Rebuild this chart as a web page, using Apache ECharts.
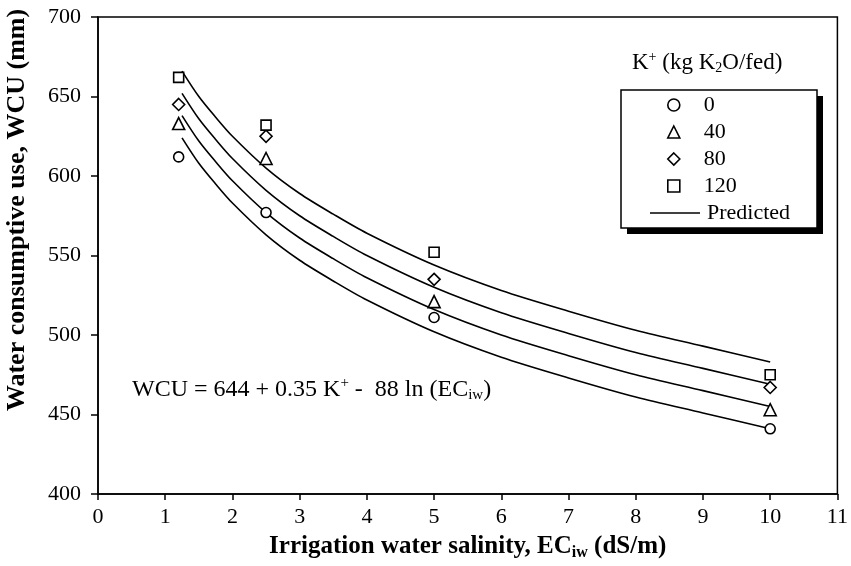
<!DOCTYPE html>
<html>
<head>
<meta charset="utf-8">
<script src="https://cdn.jsdelivr.net/npm/echarts@6/dist/echarts.min.js"></script>
<style>html,body{margin:0;padding:0;background:#fff}#c{width:851px;height:566px}</style>
</head>
<body>
<div id="c"></div>
<script>
// Observed data (EC_iw in dS/m, WCU in mm)
var obsEC = [1.2, 2.5, 5, 10];
var obsK0 = [612, 577, 511, 441];
var obsK40 = [633, 611, 521, 453];
var obsK80 = [645, 625, 535, 467];
var obsK120 = [662, 632, 552, 475];

// Predicted curves
var predEC = [1.25, 1.5, 1.75, 2, 2.5, 3, 3.5, 4, 5, 6, 7, 8, 9, 10];
var predK0 = [624, 608, 595, 583, 563, 547, 534, 522, 502, 486, 473, 461, 451, 441];
var predK40 = [638, 622, 609, 597, 577, 561, 548, 536, 516, 500, 487, 475, 465, 455];
var predK80 = [652, 636, 623, 611, 591, 575, 562, 550, 530, 514, 501, 489, 479, 469];
var predK120 = [666, 650, 637, 625, 605, 589, 576, 564, 544, 528, 515, 503, 493, 483];

var obsNames = ['0', '40', '80', '120'];
var obsSymbols = ['circle', 'triangle', 'diamond', 'rect'];
var predName = 'Predicted';
var xTicks = {min: 0, max: 11, interval: 1};
var yTicks = {min: 400, max: 700, interval: 50};

function pairs(xs, ys) { return xs.map(function (x, i) { return [x, ys[i]]; }); }

var FONT = 'Liberation Serif';
var chart = echarts.init(document.getElementById('c'));

function scatter(name, data, symbol, size) {
  return {
    name: name, type: 'scatter', data: pairs(obsEC, data), symbol: symbol, symbolSize: size,
    itemStyle: {color: '#fff', borderColor: '#000', borderWidth: 1.6, opacity: 1},
    z: 5
  };
}
function pred(data) {
  return {
    name: predName, type: 'line', data: pairs(predEC, data), symbol: 'none', smooth: 0.3,
    lineStyle: {color: '#000', width: 1.6}, itemStyle: {color: '#000'}, z: 3
  };
}

var obsSeries = [obsK0, obsK40, obsK80, obsK120];
var obsSizes = [10, 12, 12, 10];

chart.setOption({
  animation: false,
  backgroundColor: '#fff',
  textStyle: {fontFamily: FONT, color: '#000'},
  grid: {left: 98, right: 13, top: 17, bottom: 66, show: true, borderColor: '#000', borderWidth: 1.5, backgroundColor: 'transparent'},
  xAxis: {
    type: 'value', min: xTicks.min, max: xTicks.max, interval: xTicks.interval,
    axisLine: {lineStyle: {color: '#000', width: 1.5}},
    axisTick: {show: true, length: 6, lineStyle: {color: '#000', width: 1.5}},
    splitLine: {show: false},
    axisLabel: {fontFamily: FONT, fontSize: 22, color: '#000', margin: 12},
    name: '{b|Irrigation water salinity, EC}{s|iw}{b| (dS/m)}',
    nameLocation: 'middle', nameGap: 39,
    nameTextStyle: {
      rich: {
        b: {fontFamily: FONT, fontSize: 25, fontWeight: 'bold', color: '#000'},
        s: {fontFamily: FONT, fontSize: 16, fontWeight: 'bold', color: '#000', verticalAlign: 'bottom', padding: [12, 0, 0, 0]}
      }
    }
  },
  yAxis: {
    type: 'value', min: yTicks.min, max: yTicks.max, interval: yTicks.interval,
    axisLine: {lineStyle: {color: '#000', width: 1.5}},
    axisTick: {show: true, length: 7, lineStyle: {color: '#000', width: 1.5}},
    splitLine: {show: false},
    axisLabel: {fontFamily: FONT, fontSize: 22, color: '#000', margin: 17}
  },
  legend: [
    {
      orient: 'vertical', left: 667, top: 94,
      data: obsNames.map(function (n, i) { return {name: n, icon: obsSymbols[i]}; }),
      itemWidth: 12, itemHeight: 12, itemGap: 5,
      padding: 0,
      textStyle: {fontFamily: FONT, fontSize: 22, lineHeight: 22, color: '#000', padding: [0, 0, 0, 19]},
      itemStyle: {borderWidth: 1.6},
      z: 10
    },
    {
      orient: 'vertical', left: 650, top: 202,
      data: [{name: predName, icon: 'rect'}],
      itemWidth: 50, itemHeight: 1.6, itemGap: 5,
      padding: 0,
      itemStyle: {color: '#000', borderWidth: 0},
      textStyle: {fontFamily: FONT, fontSize: 22, lineHeight: 22, color: '#000', padding: [0, 0, 0, 2]},
      z: 10
    }
  ],
  graphic: [
    {
      type: 'text', x: 17, y: 210, rotation: Math.PI / 2, z: 10,
      style: {
        text: 'Water consumptive use, WCU (mm)',
        fontFamily: FONT, fontSize: 26, fontWeight: 'bold', fill: '#000',
        align: 'center', verticalAlign: 'middle'
      }
    },
    {
      type: 'rect', z: 1, shape: {x: 627, y: 96, width: 196, height: 138},
      style: {fill: '#000', stroke: 'none'}
    },
    {
      type: 'rect', z: 2, shape: {x: 621, y: 90, width: 196, height: 138},
      style: {fill: '#fff', stroke: '#000', lineWidth: 1.5}
    },
    {
      type: 'text', left: 632, top: 50, z: 10,
      style: {
        text: '{n|K}{sup|+}{n| (kg K}{sub|2}{n|O/fed)}',
        rich: {
          n: {fontFamily: FONT, fontSize: 23, fill: '#000'},
          sup: {fontFamily: FONT, fontSize: 14, fill: '#000', padding: [0, 0, 11, 0]},
          sub: {fontFamily: FONT, fontSize: 14, fill: '#000', padding: [11, 0, 0, 0]}
        }
      }
    },
    {
      type: 'text', left: 132, top: 376, z: 10,
      style: {
        text: '{n|WCU = 644 + 0.35 K}{sup|+}{n| -  88 ln (EC}{sub|iw}{n|)}',
        rich: {
          n: {fontFamily: FONT, fontSize: 24, fill: '#000'},
          sup: {fontFamily: FONT, fontSize: 15, fill: '#000', padding: [0, 0, 12, 0]},
          sub: {fontFamily: FONT, fontSize: 15, fill: '#000', padding: [12, 0, 0, 0]}
        }
      }
    }
  ],
  series: obsSeries.map(function (d, i) { return scatter(obsNames[i], d, obsSymbols[i], obsSizes[i]); })
    .concat([pred(predK0), pred(predK40), pred(predK80), pred(predK120)])
});
</script>
</body>
</html>
